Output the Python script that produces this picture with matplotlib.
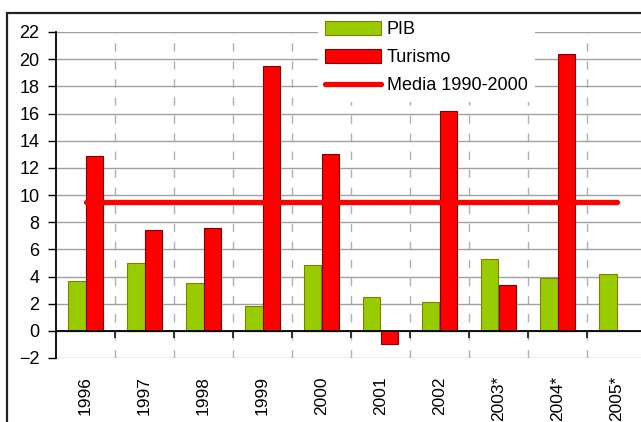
import numpy as np
import matplotlib.pyplot as plt
from matplotlib.patches import Rectangle
from matplotlib.lines import Line2D

plt.rcParams['font.family'] = ['Liberation Sans', 'DejaVu Sans']

# data
years = ['1996', '1997', '1998', '1999', '2000', '2001', '2002', '2003*', '2004*', '2005*']
pib = [3.7, 5.0, 3.5, 1.8, 4.85, 2.5, 2.1, 5.3, 3.9, 4.2]
turismo = [12.9, 7.4, 7.6, 19.5, 13.0, -1.0, 16.2, 3.4, 20.4, np.nan]
media = 9.5

fig = plt.figure(figsize=(6.41, 4.22), dpi=100)
W, H = 641, 422

# outer frame of the chart (runs off the right and bottom edge)
frame = Rectangle((7 / W, -0.1), 1.2, (H - 13) / H + 0.1, transform=fig.transFigure,
                  fill=False, edgecolor='#222222', linewidth=1.6, zorder=20)
fig.add_artist(frame)

ax = fig.add_axes([56 / W, 64 / H, 590 / W, 326 / H])

x = np.arange(len(years)) + 0.5
w = 0.3
bars_pib = ax.bar(x - w / 2, pib, w, color='#99cc00', edgecolor='#808000', linewidth=0.8, zorder=3)
bars_tur = ax.bar(x + w / 2, turismo, w, color='#ff0000', edgecolor='#800000', linewidth=0.8, zorder=3)
ax.plot([x[0], x[-1]], [media, media], color='#ff0000', linewidth=3.8, solid_capstyle='round', zorder=4)

ax.set_xlim(0, len(years))
ax.set_ylim(-2, 22)
ax.set_yticks(np.arange(-2, 23, 2))
ax.yaxis.grid(True, color='#a0a0a0', linewidth=1.0, zorder=0)
ax.tick_params(axis='y', direction='out', length=6, width=1, color='black', pad=6, labelsize=13)

# category boundaries: dashed grid lines
ax.set_xticks(np.arange(1, len(years)))
ax.set_xticklabels([])
ax.xaxis.grid(True, color='#b0b0b0', linewidth=1.0, linestyle=(0, (6, 7)), zorder=0)
ax.tick_params(axis='x', which='major', length=0)
ax.set_xticks(x, minor=True)
ax.set_xticklabels(years, minor=True, rotation=90, fontsize=12.5)
ax.tick_params(axis='x', which='minor', length=0, pad=13)

for s in ['top', 'right', 'bottom']:
    ax.spines[s].set_visible(False)
ax.spines['left'].set_linewidth(1.3)
ax.spines['left'].set_zorder(5)

# zero line with small ticks at category boundaries
ax.axhline(0, color='black', linewidth=1.3, zorder=5)
ax.vlines(np.arange(1, len(years)), -0.5, 0, color='#222222', linewidth=1.3, zorder=5)

handles = [bars_pib, bars_tur, Line2D([], [], color='#ff0000', linewidth=3.8, solid_capstyle='round')]
leg = fig.legend(handles, ['PIB', 'Turismo', 'Media 1990-2000'], loc='upper left',
                 bbox_to_anchor=(318 / W, 1 - 14 / H), fontsize=13, frameon=True,
                 facecolor='white', edgecolor='none', framealpha=1, fancybox=False,
                 handlelength=3.1, handleheight=0.8, handletextpad=0.3,
                 labelspacing=0.6, borderpad=0.4, borderaxespad=0)
leg.set_zorder(10)

fig.savefig('out.png', dpi=100)
